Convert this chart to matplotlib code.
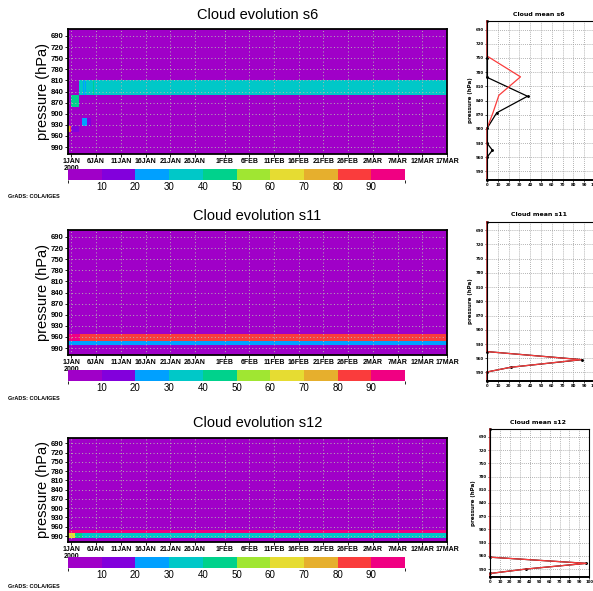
import numpy as np
import matplotlib
matplotlib.use("Agg")
import matplotlib.pyplot as plt
from matplotlib.colors import ListedColormap, BoundaryNorm
from matplotlib.cm import ScalarMappable

# --- Configuration ---
W, H = 593, 591          # output size in pixels
FONT = "Liberation Sans"

# --- Data ---
# time axis: days since 1JAN2000
day_ticks = [0, 5, 10, 15, 20, 25, 31, 36, 41, 46, 51, 56, 61, 66, 71, 76]
day_labels = ["1JAN\n2000", "6JAN", "11JAN", "16JAN", "21JAN", "26JAN", "1FEB",
              "6FEB", "11FEB", "16FEB", "21FEB", "26FEB", "2MAR", "7MAR",
              "12MAR", "17MAR"]
p_ticks = [690, 720, 750, 780, 810, 840, 870, 900, 930, 960, 990]
mean_ticks = [0, 10, 20, 30, 40, 50, 60, 70, 80, 90, 100]
cloud_bounds = [0, 10, 20, 30, 40, 50, 60, 70, 80, 90, 100]
cloud_labels = [10, 20, 30, 40, 50, 60, 70, 80, 90]
grads_colors = ["#A000C8", "#8200DC", "#00A0FF", "#00C8C8", "#00D28C",
                "#A0E632", "#E6DC32", "#E6AF2D", "#FA3C3C", "#F00082"]

# s6: time edges, pressure edges, cloud cover (%) per cell
s6_time = [-0.7, -0.35, -0.1, 1.5, 1.6, 2.2, 2.3, 2.5, 2.7, 2.9, 3.2, 4.0, 4.4, 4.6, 76]
s6_plev = [672, 809, 849, 881, 911, 932, 950, 1008]
s6_cloud = [
    [0, 0, 0, 0, 0, 0, 0, 0, 0, 0, 0, 0, 0, 0],
    [0, 0, 0, 0, 35, 35, 25, 35, 25, 35, 35, 35, 45, 35],
    [0, 0, 45, 0, 0, 0, 0, 0, 0, 0, 0, 0, 0, 0],
    [0, 0, 0, 0, 0, 0, 0, 0, 0, 0, 0, 0, 0, 0],
    [0, 0, 0, 0, 0, 25, 25, 25, 25, 25, 15, 0, 0, 0],
    [75, 85, 15, 0, 0, 0, 0, 0, 0, 0, 0, 0, 0, 0],
    [0, 0, 0, 0, 0, 0, 0, 0, 0, 0, 0, 0, 0, 0],
]
s6_black_p = [672, 750, 791, 831, 866, 899, 930, 945, 960, 1008]
s6_black = [0, 0, 0, 37.5, 9, 0, 0, 5, 0, 0]
s6_red_p = [672, 746, 790, 829, 866, 899, 1008]
s6_red = [0, 0, 31, 11, 5.5, 0, 0]

# s11
s11_time = [-0.7, 1.8, 76]
s11_plev = [672, 952, 970, 982, 1008]
s11_cloud = [
    [0, 0],
    [95, 85],
    [25, 25],
    [0, 0],
]
s11_p = [672, 946, 963, 979, 989, 1008]
s11_black = [0, 0, 88, 22, 0, 0]
s11_red = [0, 0, 87, 22, 0, 0]

# s12
s12_time = [-0.7, 0.7, 2.1, 76]
s12_plev = [672, 970, 981, 995, 1008]
s12_cloud = [
    [0, 0, 0],
    [95, 95, 95],
    [65, 45, 35],
    [0, 0, 0],
]
s12_p = [672, 963, 977, 990, 1000, 1008]
s12_black = [0, 0, 97, 36, 0, 0]
s12_red = [0, 0, 97, 36, 0, 0]

panels = [
    ("s6", s6_time, s6_plev, s6_cloud, s6_black_p, s6_black, s6_red_p, s6_red),
    ("s11", s11_time, s11_plev, s11_cloud, s11_p, s11_black, s11_p, s11_red),
    ("s12", s12_time, s12_plev, s12_cloud, s12_p, s12_black, s12_p, s12_red),
]

# --- Layout in pixels (left, top, right, bottom) ---
main_boxes = [(68, 29.3, 447, 153.7), (68, 230.3, 447, 354.7), (68, 437.7, 447, 541.6)]
cbar_boxes = [(68, 169, 405, 180), (68, 370, 405, 381), (68, 557, 405, 568)]
mean_boxes = [(487, 21, 595, 180), (487, 221.7, 595, 381), (490, 429, 589.3, 577)]
title_y = [15, 216, 423]
mean_title_y = [14, 214, 422]
credit_y = [197, 399, 587]

cmap = ListedColormap(grads_colors)
norm = BoundaryNorm(cloud_bounds, cmap.N)


def px_axes(fig, box):
    x0, y0, x1, y1 = box
    return fig.add_axes([x0 / W, 1 - y1 / H, (x1 - x0) / W, (y1 - y0) / H])


fig = plt.figure(figsize=(W / 100, H / 100), dpi=100)
fig.patch.set_facecolor("white")

for i, (name, t, p, c, bp, bv, rp, rv) in enumerate(panels):
    # --- time/pressure cloud cover ---
    ax = px_axes(fig, main_boxes[i])
    ax.pcolormesh(t, p, np.array(c), cmap=cmap, norm=norm)
    ax.set_xlim(-0.7, 76)
    ax.set_ylim(1008, 672)
    ax.set_xticks(day_ticks)
    ax.set_xticklabels(day_labels, fontsize=5, fontweight="bold",
                       family=FONT, linespacing=0.95)
    ax.set_yticks(p_ticks)
    ax.set_yticklabels(p_ticks, fontsize=5.6, fontweight="bold", family=FONT)
    ax.tick_params(length=2, width=0.6, pad=1)
    for s in ax.spines.values():
        s.set_linewidth(1.3)
    ax.grid(True, color="#B4B4B4", linestyle=(0, (1, 2.5)), linewidth=0.7)
    fig.text(43 / W, 1 - ((main_boxes[i][1] + main_boxes[i][3]) / 2) / H,
             "pressure (hPa)", rotation=90, ha="center", va="center",
             fontsize=10.5, family=FONT)
    fig.text(257.5 / W, 1 - title_y[i] / H, f"Cloud evolution {name}",
             ha="center", va="center", fontsize=10.5, family=FONT)

    # --- colour key ---
    cax = px_axes(fig, cbar_boxes[i])
    cb = fig.colorbar(ScalarMappable(norm=norm, cmap=cmap), cax=cax,
                      orientation="horizontal", ticks=cloud_labels)
    cb.outline.set_visible(False)
    cax.tick_params(length=0, pad=1.5, labelsize=7)
    for lab in cax.get_xticklabels():
        lab.set_family(FONT)

    fig.text(8 / W, 1 - credit_y[i] / H, "GrADS: COLA/IGES", fontsize=4,
             fontweight="bold", family=FONT, va="center")

    # --- mean profile ---
    mx = px_axes(fig, mean_boxes[i])
    mx.plot(bv, bp, color="black", lw=0.9, marker="o", ms=1.1, clip_on=False)
    mx.plot(rv, rp, color="#FA3C3C", lw=0.9, clip_on=False)
    mx.set_xlim(0, 100)
    mx.set_ylim(1008, 672)
    mx.set_xticks(mean_ticks)
    mx.set_xticklabels(mean_ticks, fontsize=2.8, fontweight="bold")
    mx.set_yticks(p_ticks)
    mx.set_yticklabels(p_ticks, fontsize=2.8, fontweight="bold")
    mx.tick_params(length=1.5, width=0.5, pad=1)
    mx.grid(True, color="#9A9A9A", linestyle=(0, (1, 1.5)), linewidth=0.6)
    mx.spines["bottom"].set_linewidth(1.4)
    mx.spines["top"].set_linewidth(0.8)
    mx.spines["right"].set_linewidth(0.8)
    mx.spines["left"].set_linewidth(0.8)
    mx.set_ylabel("pressure (hPa)", fontsize=4, fontweight="bold", labelpad=1.5)
    fig.text(((mean_boxes[i][0] + mean_boxes[i][2]) / 2 - 2) / W,
             1 - mean_title_y[i] / H, f"Cloud mean {name}", ha="center",
             va="center", fontsize=4.5, fontweight="bold")

fig.savefig("out.png", dpi=100)
